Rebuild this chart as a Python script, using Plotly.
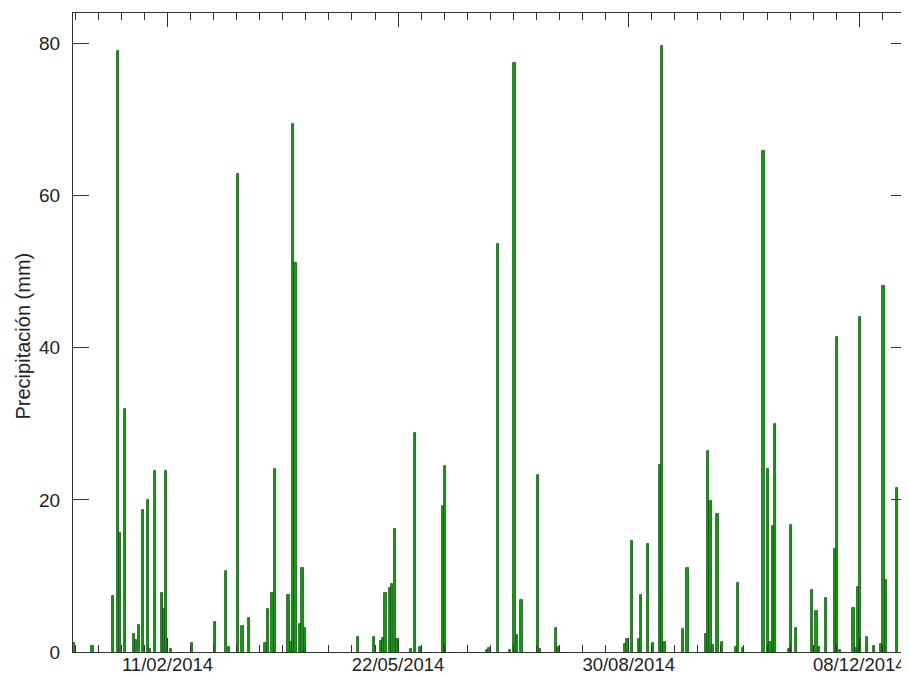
import plotly.graph_objects as go

dates = [
    "2014-01-01", "2014-01-09", "2014-01-18", "2014-01-20", "2014-01-21", "2014-01-23",
    "2014-01-27", "2014-01-28", "2014-01-29", "2014-01-31", "2014-02-02", "2014-02-03",
    "2014-02-05", "2014-02-08", "2014-02-09", "2014-02-10", "2014-02-12", "2014-02-21",
    "2014-03-03", "2014-03-08", "2014-03-09", "2014-03-13", "2014-03-15", "2014-03-18",
    "2014-03-25", "2014-03-26", "2014-03-28", "2014-03-29", "2014-04-04", "2014-04-05",
    "2014-04-06", "2014-04-07", "2014-04-09", "2014-04-10", "2014-04-11", "2014-05-04",
    "2014-05-11", "2014-05-14", "2014-05-15", "2014-05-16", "2014-05-18", "2014-05-19",
    "2014-05-20", "2014-05-21", "2014-05-27", "2014-05-29", "2014-05-31", "2014-06-10",
    "2014-06-11", "2014-06-29", "2014-06-30", "2014-07-04", "2014-07-09", "2014-07-11",
    "2014-07-12", "2014-07-14", "2014-07-21", "2014-07-22", "2014-07-29", "2014-07-30",
    "2014-08-28", "2014-08-29", "2014-08-31", "2014-09-03", "2014-09-04", "2014-09-07",
    "2014-09-09", "2014-09-12", "2014-09-13", "2014-09-14", "2014-09-22", "2014-09-24",
    "2014-10-02", "2014-10-03", "2014-10-04", "2014-10-05", "2014-10-07", "2014-10-09",
    "2014-10-15", "2014-10-16", "2014-10-18", "2014-10-27", "2014-10-29", "2014-10-30",
    "2014-10-31", "2014-11-01", "2014-11-07", "2014-11-08", "2014-11-10", "2014-11-17",
    "2014-11-19", "2014-11-20", "2014-11-23", "2014-11-27", "2014-11-28", "2014-11-29",
    "2014-12-05", "2014-12-06", "2014-12-07", "2014-12-08", "2014-12-11", "2014-12-14",
    "2014-12-17", "2014-12-18", "2014-12-19", "2014-12-24", "2014-12-27", "2014-12-28",
]
precip_mm = [
    1.2, 0.8, 7.4, 79.0, 15.6, 32.0,
    2.4, 1.6, 3.6, 18.7, 20.0, 0.4,
    23.8, 7.8, 5.6, 23.8, 0.4, 1.2,
    3.9, 10.6, 0.6, 62.8, 3.4, 4.5,
    1.2, 5.7, 7.8, 24.0, 7.5, 1.3,
    69.4, 51.2, 3.7, 11.1, 3.1, 2.0,
    2.0, 1.5, 1.9, 7.8, 8.4, 9.0,
    16.2, 1.7, 0.4, 28.8, 0.7, 19.2,
    24.4, 0.3, 0.5, 53.7, 0.3, 77.4,
    2.3, 6.8, 23.3, 0.4, 3.1, 0.6,
    1.1, 1.7, 14.6, 1.7, 7.5, 14.2,
    1.2, 24.6, 79.7, 1.3, 3.0, 11.1,
    2.4, 26.4, 19.9, 0.9, 18.2, 1.3,
    0.6, 9.1, 0.5, 65.9, 24.0, 1.3,
    16.5, 30.0, 0.4, 16.7, 3.2, 8.2,
    5.4, 0.7, 7.1, 13.5, 41.4, 0.3,
    5.8, 0.5, 8.5, 44.1, 2.0, 0.8,
    1.0, 48.1, 9.4, 21.6, 0.9, 4.8,
]
y_ticks = [0, 20, 40, 60, 80]
y_title = "Precipitación (mm)"

DAY_MS = 86400000
font_family = "Helvetica, 'Liberation Sans', Arial, sans-serif"

fig = go.Figure(
    go.Bar(
        x=dates,
        y=precip_mm,
        width=0.95 * DAY_MS,
        offset=0.02 * DAY_MS,
        marker=dict(color="#1f961f", line=dict(color="#0b5a0b", width=0.8)),
    )
)

# The page body has an 8px default margin, so the figure is sized to fill
# the remaining 901x669 area of the 909x677 window.
fig.update_layout(
    width=901,
    height=669,
    margin=dict(l=65, r=2, t=5, b=25, autoexpand=False),
    paper_bgcolor="white",
    plot_bgcolor="white",
    showlegend=False,
    font=dict(family=font_family, size=19, color="#222222"),
    bargap=0,
    annotations=[
        dict(
            text=y_title,
            textangle=-90,
            xref="paper",
            yref="paper",
            x=0,
            y=0.5,
            xanchor="center",
            yanchor="middle",
            xshift=-51,
            yshift=-4,
            showarrow=False,
            font=dict(size=20, color="#222222"),
        )
    ],
)

fig.update_xaxes(
    type="date",
    automargin=False,
    range=["2014-01-01", "2014-12-28T17:00"],
    tick0="2014-02-11",
    dtick=100 * DAY_MS,
    tickformat="%d/%m/%Y",
    ticks="inside",
    ticklen=14,
    tickcolor="#333333",
    showline=True,
    linecolor="#333333",
    linewidth=1,
    mirror="ticks",
    showgrid=False,
    zeroline=False,
    tickfont=dict(size=18.5),
    ticklabelstandoff=-4,
    minor=dict(
        tick0="2014-02-11",
        dtick=10 * DAY_MS,
        ticks="inside",
        ticklen=7,
        tickcolor="#333333",
        showgrid=False,
    ),
)

fig.update_yaxes(
    automargin=False,
    range=[0, 84],
    tickvals=y_ticks,
    ticks="inside",
    ticklen=16,
    tickcolor="#333333",
    showline=True,
    linecolor="#333333",
    linewidth=1,
    mirror="ticks",
    showgrid=False,
    zeroline=False,
    tickfont=dict(size=19),
    ticklabelstandoff=8,
)

fig.write_html("out.html")
